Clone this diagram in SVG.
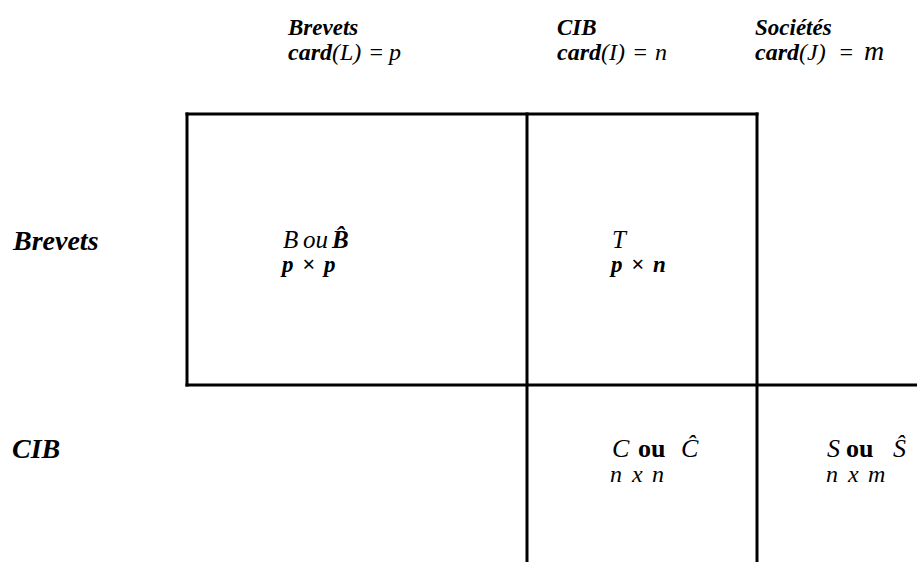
<svg xmlns="http://www.w3.org/2000/svg" width="917" height="562" viewBox="0 0 917 562">
<style>
  .ln { stroke:#000; stroke-width:3; fill:none; stroke-linecap:square; }
  text { font-family:"Liberation Serif","Times New Roman",serif; fill:#000; }
  .hd { font-size:23px; font-style:italic; font-weight:bold; }
  .cd { font-size:24px; font-style:italic; font-weight:bold; }
  .it { font-style:italic; font-weight:normal; }
  .rl { font-size:28px; font-style:italic; font-weight:bold; }
  .cl { font-size:25px; font-style:italic; font-weight:normal; }
  .cl2 { font-size:26px; font-style:italic; font-weight:normal; }
  .dm { font-size:23px; font-style:italic; font-weight:bold; }
  .dl { font-size:24px; font-style:italic; font-weight:normal; }
  .up { font-style:normal; font-weight:bold; }
</style>
<g id="grid" class="ln">
  <line x1="187" y1="114" x2="757" y2="114"/>
  <line x1="187" y1="114" x2="187" y2="385"/>
  <line x1="187" y1="385" x2="917" y2="385"/>
  <line x1="527" y1="114" x2="527" y2="562"/>
  <line x1="757" y1="114" x2="757" y2="562"/>
</g>
<g id="col-brevets">
  <text class="hd" x="288" y="35">Brevets</text>
  <text class="cd" x="288" y="60">card<tspan class="it">(L)</tspan><tspan class="it" x="368">=</tspan><tspan class="it" x="389">p</tspan></text>
</g>
<g id="col-cib">
  <text class="hd" x="557" y="35">CIB</text>
  <text class="cd" x="557" y="60">card<tspan class="it">(I)</tspan><tspan class="it" x="632">=</tspan><tspan class="it" x="655">n</tspan></text>
</g>
<g id="col-societes">
  <text class="hd" x="755" y="35">Sociétés</text>
  <text class="cd" x="755" y="60">card<tspan class="it">(J)</tspan><tspan class="it" x="838">=</tspan><tspan class="it" x="864" font-size="28">m</tspan></text>
</g>
<g id="row-brevets">
  <text class="rl" x="13" y="250">Brevets</text>
</g>
<g id="row-cib">
  <text class="rl" x="12" y="458">CIB</text>
</g>
<g id="cell-B">
  <text class="cl" x="283" y="248">B<tspan x="303">ou</tspan><tspan x="332" font-weight="bold">B̂</tspan></text>
  <text class="dm" x="282" y="272">p<tspan x="302">×</tspan><tspan x="324">p</tspan></text>
</g>
<g id="cell-T">
  <text class="cl" x="612" y="248">T</text>
  <text class="dm" x="611" y="272">p<tspan x="631">×</tspan><tspan x="653">n</tspan></text>
</g>
<g id="cell-C">
  <text class="cl2" x="612" y="457">C<tspan class="up" x="638">ou</tspan><tspan x="681">Ĉ</tspan></text>
  <text class="dl" x="610" y="482">n<tspan x="632">x</tspan><tspan x="652">n</tspan></text>
</g>
<g id="cell-S">
  <text class="cl2" x="827" y="457">S<tspan class="up" x="846">ou</tspan><tspan x="893">Ŝ</tspan></text>
  <text class="dl" x="826" y="482">n<tspan x="848">x</tspan><tspan x="868">m</tspan></text>
</g>
</svg>
